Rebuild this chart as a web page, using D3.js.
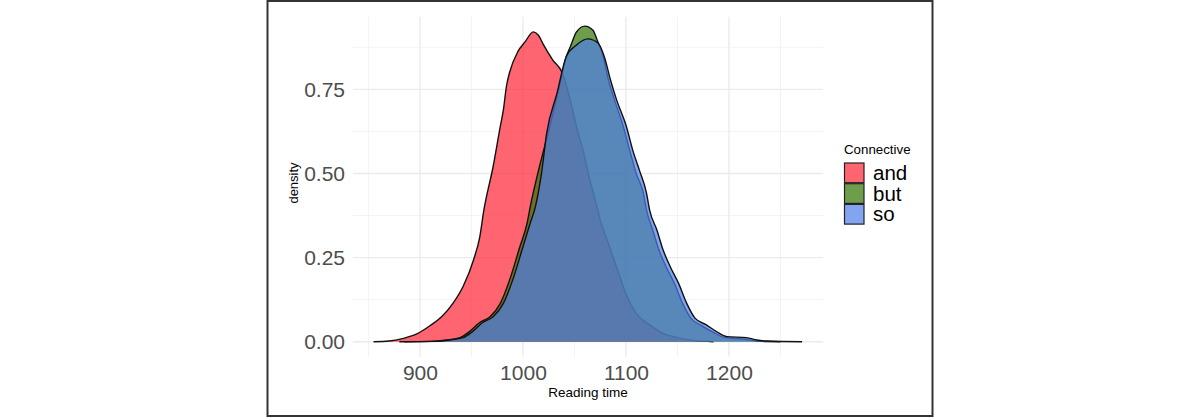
<!DOCTYPE html>
<html>
<head>
<meta charset="utf-8">
<script src="https://cdn.jsdelivr.net/npm/d3@7"></script>
<style>
  body { margin: 0; background: #fff; }
  svg { display: block; font-family: "Liberation Sans", Arial, sans-serif; }
</style>
</head>
<body>
<svg width="1200" height="418"></svg>
<script>
// density curves, one array per connective
var andX = [855, 870, 884, 897, 910, 921, 932, 942, 952, 958, 962, 971, 978, 981, 984, 987, 995, 1002, 1010, 1015, 1020, 1029, 1038, 1046, 1052, 1059, 1065, 1072, 1075, 1083, 1093, 1101, 1110, 1123, 1136, 1149, 1165, 1185];
var andY = [0, 0.002, 0.010, 0.023, 0.048, 0.074, 0.114, 0.165, 0.243, 0.310, 0.390, 0.520, 0.640, 0.689, 0.760, 0.800, 0.862, 0.891, 0.921, 0.911, 0.882, 0.837, 0.800, 0.718, 0.639, 0.560, 0.480, 0.400, 0.362, 0.292, 0.203, 0.134, 0.084, 0.050, 0.025, 0.013, 0.004, 0];

var butX = [880, 910, 926, 939, 948, 958, 968, 978, 987, 997, 1004, 1007, 1016, 1026, 1036, 1042, 1046, 1052, 1060, 1068, 1072, 1078, 1083, 1089, 1097, 1104, 1110, 1117, 1120, 1126, 1132, 1139, 1147, 1155, 1163, 1175, 1185, 1195, 1213, 1228, 1250];
var butY = [0, 0.001, 0.005, 0.012, 0.030, 0.057, 0.074, 0.114, 0.183, 0.282, 0.352, 0.400, 0.520, 0.639, 0.768, 0.847, 0.877, 0.921, 0.938, 0.926, 0.897, 0.847, 0.778, 0.718, 0.644, 0.565, 0.500, 0.441, 0.391, 0.332, 0.273, 0.223, 0.174, 0.114, 0.070, 0.045, 0.028, 0.013, 0.008, 0.002, 0];

var soX = [885, 915, 929, 942, 951, 961, 971, 981, 990, 1000, 1007, 1012, 1018, 1023, 1033, 1042, 1052, 1063, 1073, 1079, 1085, 1091, 1100, 1107, 1113, 1120, 1123, 1130, 1136, 1143, 1151, 1159, 1167, 1178, 1188, 1198, 1217, 1227, 1237, 1271];
var soY = [0, 0.001, 0.005, 0.012, 0.030, 0.057, 0.074, 0.114, 0.183, 0.282, 0.352, 0.400, 0.500, 0.619, 0.738, 0.847, 0.882, 0.900, 0.887, 0.847, 0.778, 0.718, 0.644, 0.565, 0.510, 0.441, 0.391, 0.332, 0.273, 0.223, 0.174, 0.114, 0.070, 0.050, 0.030, 0.015, 0.012, 0.005, 0.002, 0];

var groups = ["and", "but", "so"];
var colors = ["#ff2433", "#307400", "#4f7eea"];
var xTicks = [900, 1000, 1100, 1200];
var xMinor = [850, 950, 1050, 1150, 1250];
var yTicks = [0, 0.25, 0.5, 0.75];
var yMinor = [0.125, 0.375, 0.625, 0.875];

var series = [
  {name: "and", xs: andX, ys: andY},
  {name: "but", xs: butX, ys: butY},
  {name: "so", xs: soX, ys: soY}
];

var svg = d3.select("svg");
var panel = {left: 353, right: 823, top: 16.7, bottom: 356.7};

var x = d3.scaleLinear().domain([835, 1291.3]).range([panel.left, panel.right]);
var y = d3.scaleLinear().domain([-0.0446, 0.966]).range([panel.bottom, panel.top]);
var color = d3.scaleOrdinal().domain(groups).range(colors);

// outer border
svg.append("rect")
  .attr("x", 267.5).attr("y", 1)
  .attr("width", 665).attr("height", 415)
  .attr("fill", "#fff").attr("stroke", "#333").attr("stroke-width", 2);

// grid
var grid = svg.append("g");
grid.selectAll(".xminor").data(xMinor).enter().append("line")
  .attr("x1", function(d) { return x(d); }).attr("x2", function(d) { return x(d); })
  .attr("y1", panel.top).attr("y2", panel.bottom)
  .attr("stroke", "#f2f2f2").attr("stroke-width", 0.9);
grid.selectAll(".yminor").data(yMinor).enter().append("line")
  .attr("y1", function(d) { return y(d); }).attr("y2", function(d) { return y(d); })
  .attr("x1", panel.left).attr("x2", panel.right)
  .attr("stroke", "#f2f2f2").attr("stroke-width", 0.9);
grid.selectAll(".xmajor").data(xTicks).enter().append("line")
  .attr("x1", function(d) { return x(d); }).attr("x2", function(d) { return x(d); })
  .attr("y1", panel.top).attr("y2", panel.bottom)
  .attr("stroke", "#ebebeb").attr("stroke-width", 1.4);
grid.selectAll(".ymajor").data(yTicks).enter().append("line")
  .attr("y1", function(d) { return y(d); }).attr("y2", function(d) { return y(d); })
  .attr("x1", panel.left).attr("x2", panel.right)
  .attr("stroke", "#ebebeb").attr("stroke-width", 1.4);

// densities, drawn in group order with alpha
var area = d3.area()
  .x(function(d) { return x(d[0]); })
  .y0(y(0))
  .y1(function(d) { return y(d[1]); })
  .curve(d3.curveMonotoneX);
var line = d3.line()
  .x(function(d) { return x(d[0]); })
  .y(function(d) { return y(d[1]); })
  .curve(d3.curveMonotoneX);

series.forEach(function(s) {
  var pts = s.xs.map(function(v, i) { return [v, s.ys[i]]; });
  svg.append("path").datum(pts)
    .attr("d", area)
    .attr("fill", color(s.name)).attr("fill-opacity", 0.7);
  svg.append("path").datum(pts)
    .attr("d", line)
    .attr("fill", "none").attr("stroke", "#111").attr("stroke-width", 1.4);
});

// axes (labels only, like theme_minimal)
var xAxis = svg.append("g")
  .attr("transform", "translate(0," + panel.bottom + ")")
  .call(d3.axisBottom(x).tickValues(xTicks).tickSize(0).tickPadding(8).tickFormat(d3.format("d")));
xAxis.select(".domain").remove();
xAxis.selectAll("text").attr("font-size", 21).attr("fill", "#4d4d4d")
  .attr("font-family", "Liberation Sans, Arial, sans-serif");

var yAxis = svg.append("g")
  .attr("transform", "translate(" + (panel.left - 8) + ",0)")
  .call(d3.axisLeft(y).tickValues(yTicks).tickSize(0).tickPadding(0).tickFormat(d3.format(".2f")));
yAxis.select(".domain").remove();
yAxis.selectAll("text").attr("font-size", 21).attr("fill", "#4d4d4d")
  .attr("font-family", "Liberation Sans, Arial, sans-serif");

// axis titles
svg.append("text")
  .attr("x", (panel.left + panel.right) / 2).attr("y", 397)
  .attr("text-anchor", "middle").attr("font-size", 13.5).attr("fill", "#000")
  .text("Reading time");
svg.append("text")
  .attr("transform", "translate(298," + 183 + ") rotate(-90)")
  .attr("text-anchor", "middle").attr("font-size", 13).attr("fill", "#000")
  .text("density");

// legend
var legend = svg.append("g").attr("transform", "translate(844,0)");
legend.append("text")
  .attr("x", 0).attr("y", 153.5)
  .attr("font-size", 13.3).attr("fill", "#000")
  .text("Connective");
var key = legend.selectAll(".key").data(groups).enter().append("g")
  .attr("transform", function(d, i) { return "translate(0," + (162.5 + i * 20.7) + ")"; });
key.append("rect")
  .attr("x", 0.5).attr("y", 0.5).attr("width", 19.5).attr("height", 19.7)
  .attr("fill", function(d) { return color(d); }).attr("fill-opacity", 0.7)
  .attr("stroke", "#222").attr("stroke-width", 1.2);
key.append("text")
  .attr("x", 29).attr("y", 17.5)
  .attr("font-size", 20.5).attr("fill", "#000")
  .text(function(d) { return d; });
</script>
</body>
</html>
